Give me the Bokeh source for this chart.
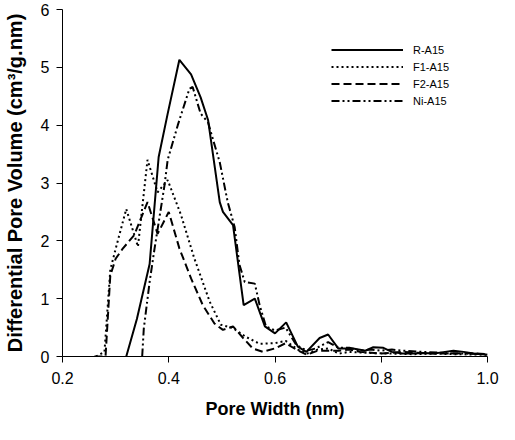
from bokeh.plotting import figure
from bokeh.models import Range1d, Legend, LegendItem, FixedTicker
from bokeh.embed import file_html
from bokeh.resources import INLINE

# ---- data ----
r_x = [0.32, 0.34, 0.364, 0.381, 0.398, 0.42, 0.442, 0.46, 0.474, 0.496, 0.502, 0.521, 0.541, 0.562,
       0.581, 0.60, 0.621, 0.643, 0.659, 0.684, 0.70, 0.719, 0.747, 0.77, 0.785, 0.804, 0.82, 0.84,
       0.86, 0.88, 0.90, 0.92, 0.936, 0.955, 0.974, 1.0]
r_y = [0.0, 0.65, 1.6, 3.45, 4.2, 5.13, 4.88, 4.48, 4.09, 2.67, 2.5, 2.27, 0.89, 1.0,
       0.52, 0.4, 0.59, 0.17, 0.08, 0.32, 0.38, 0.14, 0.14, 0.1, 0.16, 0.15, 0.08, 0.05,
       0.05, 0.06, 0.05, 0.08, 0.1, 0.08, 0.05, 0.03]

f1_x = [0.263, 0.279, 0.29, 0.30, 0.32, 0.342, 0.36, 0.379, 0.398, 0.423, 0.448, 0.477, 0.498,
        0.521, 0.545, 0.571, 0.60, 0.62, 0.643, 0.66, 0.68, 0.70, 0.72, 0.74, 0.78, 0.82, 0.86,
        0.90, 0.94, 1.0]
f1_y = [0.0, 0.08, 1.5, 1.86, 2.55, 1.9, 3.4, 2.84, 3.05, 2.45, 1.7, 0.95, 0.55,
        0.49, 0.34, 0.22, 0.23, 0.27, 0.12, 0.05, 0.12, 0.14, 0.05, 0.08, 0.06, 0.05, 0.04,
        0.05, 0.04, 0.03]

f2_x = [0.26, 0.281, 0.29, 0.30, 0.313, 0.335, 0.36, 0.379, 0.40, 0.42, 0.442, 0.464, 0.486,
        0.502, 0.521, 0.54, 0.558, 0.577, 0.60, 0.62, 0.64, 0.66, 0.68, 0.70, 0.72, 0.74, 0.76,
        0.80, 0.84, 0.88, 0.92, 0.96, 1.0]
f2_y = [0.0, 0.0, 1.4, 1.69, 1.86, 2.1, 2.67, 2.12, 2.5, 1.87, 1.35, 0.89, 0.57,
        0.46, 0.52, 0.32, 0.14, 0.08, 0.14, 0.23, 0.12, 0.03, 0.1, 0.1, 0.1, 0.12, 0.08,
        0.05, 0.08, 0.06, 0.05, 0.06, 0.04]

ni_x = [0.35, 0.353, 0.364, 0.373, 0.392, 0.398, 0.417, 0.439, 0.445, 0.46, 0.474, 0.483, 0.496,
        0.511, 0.524, 0.533, 0.543, 0.562, 0.571, 0.583, 0.60, 0.62, 0.64, 0.66, 0.677, 0.70,
        0.72, 0.74, 0.76, 0.78, 0.80, 0.82, 0.84, 0.88, 0.92, 0.96, 1.0]
ni_y = [0.0, 0.48, 1.29, 1.85, 2.96, 3.4, 4.0, 4.63, 4.66, 4.2, 4.05, 3.76, 3.36,
        2.67, 2.24, 1.59, 1.29, 1.26, 0.89, 0.52, 0.45, 0.5, 0.2, 0.1, 0.14, 0.25,
        0.15, 0.15, 0.1, 0.12, 0.1, 0.12, 0.1, 0.08, 0.06, 0.05, 0.04]

series_names = ["R-A15", "F1-A15", "F2-A15", "Ni-A15"]
x_ticks = [0.2, 0.4, 0.6, 0.8, 1.0]
y_ticks = [0, 1, 2, 3, 4, 5, 6]

FONT = "Liberation Sans"

p = figure(width=499, height=424, output_backend="svg", toolbar_location=None,
           x_range=Range1d(0.2, 1.0), y_range=Range1d(0, 6),
           min_border_left=62, min_border_right=12, min_border_top=9, min_border_bottom=68)
p.outline_line_color = None
p.grid.visible = False
p.background_fill_color = "white"
p.border_fill_color = "white"

styles = [
    dict(line_dash="solid"),
    dict(line_dash="2 3"),
    dict(line_dash="8 4"),
    dict(line_dash="8 3 2 3 2 3"),
]
data = [(r_x, r_y), (f1_x, f1_y), (f2_x, f2_y), (ni_x, ni_y)]
renderers = []
for (xs, ys), st in zip(data, styles):
    r = p.line(xs, ys, line_color="black", line_width=2, **st)
    renderers.append(r)

for ax in (p.xaxis[0], p.yaxis[0]):
    ax.major_label_text_font = FONT
    ax.major_label_text_font_size = "16px"
    ax.major_label_text_color = "black"
    ax.axis_label_text_font = FONT
    ax.axis_label_text_font_style = "bold"
    ax.axis_label_text_color = "black"
    ax.axis_line_color = "black"
    ax.major_tick_line_color = "black"
    ax.major_tick_out = 6
    ax.major_tick_in = 0
    ax.minor_tick_line_color = None

p.xaxis[0].ticker = FixedTicker(ticks=x_ticks)
p.yaxis[0].ticker = FixedTicker(ticks=y_ticks)
p.xaxis[0].major_label_overrides = {0.2: "0.2", 0.4: "0.4", 0.6: "0.6", 0.8: "0.8", 1.0: "1.0"}
p.xaxis[0].axis_label = "Pore Width (nm)"
p.yaxis[0].axis_label = "Differential Pore Volume (cm\u00b3/g.nm)"
p.xaxis[0].axis_label_text_font_size = "18px"
p.yaxis[0].axis_label_text_font_size = "20px"
p.xaxis[0].major_label_standoff = 9
p.xaxis[0].axis_label_standoff = 12
p.yaxis[0].major_label_standoff = 7
p.yaxis[0].axis_label_standoff = 12

legend = Legend(items=[LegendItem(label=n, renderers=[r]) for n, r in zip(series_names, renderers)],
                location=(269, 247))
legend.glyph_width = 72
legend.glyph_height = 17
legend.label_height = 17
legend.spacing = 0
legend.padding = 0
legend.margin = 0
legend.label_standoff = 10
legend.label_text_font = FONT
legend.label_text_font_size = "11px"
legend.label_text_color = "black"
legend.border_line_alpha = 0
legend.background_fill_alpha = 0
p.add_layout(legend)

open("out.html", "w").write(file_html(p, INLINE))
